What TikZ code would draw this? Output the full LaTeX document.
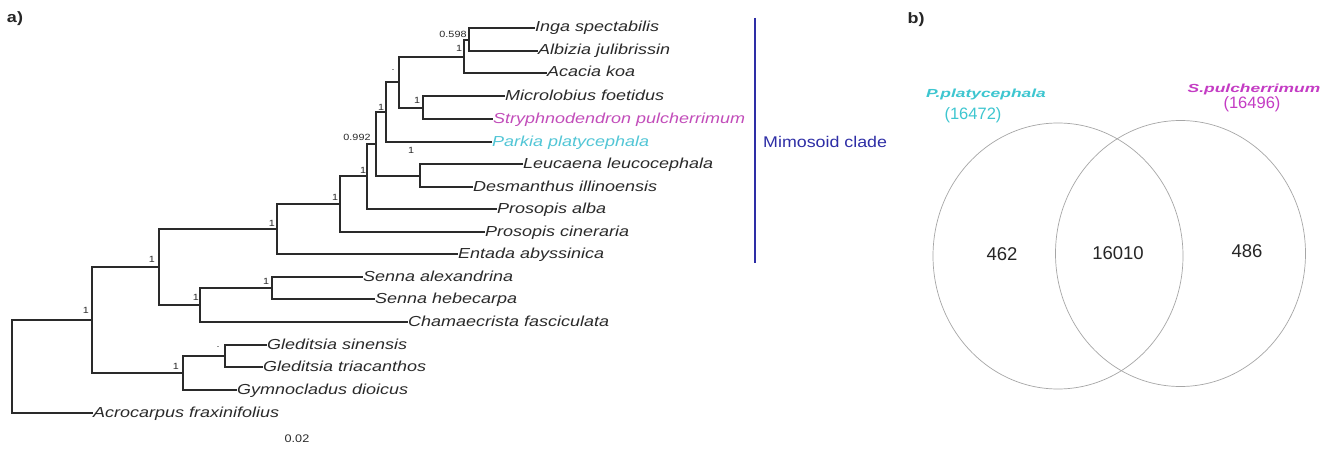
\documentclass[tikz,border=0pt]{standalone}
\usepackage{fontspec}
\setmainfont{Liberation Sans}
\usetikzlibrary{shapes.geometric}
\definecolor{treeline}{HTML}{2A2A2A}
\definecolor{strycol}{HTML}{C24DBA}
\definecolor{parkcol}{HTML}{52C6D6}
\definecolor{vcyan}{HTML}{3EC6D0}
\definecolor{vmag}{HTML}{C43CC4}
\definecolor{cladeblue}{HTML}{2E2EA6}
\newcommand\tx[1]{\scalebox{1.24}[1]{\fontsize{14.5}{16}\selectfont\itshape #1}}
\newcommand\suppv[1]{\scalebox{1.2}[1]{\fontsize{9}{10}\selectfont #1}}
\begin{document}
\begin{tikzpicture}[x=1pt,y=-1pt,
  branch/.style={draw=treeline, line width=1.1pt},
  taxon/.style={anchor=west, inner sep=0pt, text=treeline, text height=11pt, text depth=3pt},
  supp/.style={inner sep=0pt, text=treeline},
  vennring/.style={draw=gray!70, line width=0.7pt, ellipse, minimum width=250pt, minimum height=266pt, inner sep=0pt},
  vnum/.style={inner sep=0pt, font=\fontsize{18.5}{20}\selectfont, text=black!85},
  panel/.style={inner sep=0pt, font=\fontsize{15}{16}\selectfont\bfseries, text=black!85}]
\useasboundingbox (0,0) rectangle (1323,452);
\fill[white] (0,0) rectangle (1323,452);

% panel labels
\node[panel] (pa) at (15,19) {\scalebox{1.2}[1]{a)}};
\node[panel] (pb) at (916,20) {\scalebox{1.2}[1]{b)}};

% leaves
\node[taxon] (inga) at (535,28) {\tx{Inga spectabilis}};
\node[taxon] (albi) at (538,51) {\tx{Albizia julibrissin}};
\node[taxon] (acac) at (547,73) {\tx{Acacia koa}};
\node[taxon] (micr) at (505,96) {\tx{Microlobius foetidus}};
\node[taxon,text=strycol] (stry) at (493,119) {\tx{Stryphnodendron pulcherrimum}};
\node[taxon,text=parkcol] (park) at (492,142) {\tx{Parkia platycephala}};
\node[taxon] (leuc) at (523,164) {\tx{Leucaena leucocephala}};
\node[taxon] (desm) at (473,187) {\tx{Desmanthus illinoensis}};
\node[taxon] (palb) at (497,209) {\tx{Prosopis alba}};
\node[taxon] (pcin) at (485,232) {\tx{Prosopis cineraria}};
\node[taxon] (enta) at (458,254) {\tx{Entada abyssinica}};
\node[taxon] (sale) at (363,277) {\tx{Senna alexandrina}};
\node[taxon] (sheb) at (375,299) {\tx{Senna hebecarpa}};
\node[taxon] (cham) at (408,322) {\tx{Chamaecrista fasciculata}};
\node[taxon] (glsi) at (267,345) {\tx{Gleditsia sinensis}};
\node[taxon] (gltr) at (263,367) {\tx{Gleditsia triacanthos}};
\node[taxon] (gymn) at (237,390) {\tx{Gymnocladus dioicus}};
\node[taxon] (acro) at (93,413) {\tx{Acrocarpus fraxinifolius}};

% internal nodes
\coordinate (nia) at (469,40);
\coordinate (niaa) at (464,57);
\coordinate (nms) at (423,108);
\coordinate (na) at (399,82);
\coordinate (nb) at (386,112);
\coordinate (nld) at (420,176);
\coordinate (nc) at (376,144);
\coordinate (nd) at (367,176);
\coordinate (ne) at (340,204);
\coordinate (nf) at (277,229);
\coordinate (nss) at (272,288);
\coordinate (ng) at (200,305);
\coordinate (nh) at (159,267);
\coordinate (ngt) at (225,356);
\coordinate (ni) at (183,373);
\coordinate (nj) at (92,320);
\coordinate (nr) at (12,366);

% branches
\draw[branch] (nia) |- (inga.west);
\draw[branch] (nia) |- (albi.west);
\draw[branch] (niaa) |- (nia);
\draw[branch] (niaa) |- (acac.west);
\draw[branch] (nms) |- (micr.west);
\draw[branch] (nms) |- (stry.west);
\draw[branch] (na) |- (niaa);
\draw[branch] (na) |- (nms);
\draw[branch] (nb) |- (na);
\draw[branch] (nb) |- (park.west);
\draw[branch] (nld) |- (leuc.west);
\draw[branch] (nld) |- (desm.west);
\draw[branch] (nc) |- (nb);
\draw[branch] (nc) |- (nld);
\draw[branch] (nd) |- (nc);
\draw[branch] (nd) |- (palb.west);
\draw[branch] (ne) |- (nd);
\draw[branch] (ne) |- (pcin.west);
\draw[branch] (nf) |- (ne);
\draw[branch] (nf) |- (enta.west);
\draw[branch] (nss) |- (sale.west);
\draw[branch] (nss) |- (sheb.west);
\draw[branch] (ng) |- (nss);
\draw[branch] (ng) |- (cham.west);
\draw[branch] (nh) |- (nf);
\draw[branch] (nh) |- (ng);
\draw[branch] (ngt) |- (glsi.west);
\draw[branch] (ngt) |- (gltr.west);
\draw[branch] (ni) |- (ngt);
\draw[branch] (ni) |- (gymn.west);
\draw[branch] (nj) |- (nh);
\draw[branch] (nj) |- (ni);
\draw[branch] (nr) |- (nj);
\draw[branch] (nr) |- (acro.west);

% support values
\node[supp] (s1) at (453,34) {\suppv{0.598}};
\node[supp] (s2) at (459,48) {\suppv{1}};
\node[supp] (s3) at (393,70) {\suppv{.}};
\node[supp] (s4) at (417,100) {\suppv{1}};
\node[supp] (s5) at (381,107) {\suppv{1}};
\node[supp] (s6) at (357,137) {\suppv{0.992}};
\node[supp] (s7) at (411,150) {\suppv{1}};
\node[supp] (s8) at (363,170) {\suppv{1}};
\node[supp] (s9) at (335,197) {\suppv{1}};
\node[supp] (s10) at (272,223) {\suppv{1}};
\node[supp] (s11) at (152,259) {\suppv{1}};
\node[supp] (s12) at (266,281) {\suppv{1}};
\node[supp] (s13) at (196,297) {\suppv{1}};
\node[supp] (s14) at (86,310) {\suppv{1}};
\node[supp] (s15) at (218,347) {\suppv{.}};
\node[supp] (s16) at (176,366) {\suppv{1}};

% scale label
\node[supp] (scale) at (297,439) {\scalebox{1.15}[1]{\fontsize{11}{12}\selectfont 0.02}};

% clade bar
\coordinate (cbt) at (755,18);
\coordinate (cbb) at (755,263);
\draw[draw=cladeblue, line width=1.2pt] (cbt) -- (cbb);
\node[anchor=west, inner sep=0pt, text=cladeblue] (clade) at (763,142) {\scalebox{1.15}[1]{\fontsize{15.5}{17}\selectfont Mimosoid clade}};

% Venn
\node[vennring] (c1) at (1058,256) {};
\node[vennring] (c2) at (1180.5,253.5) {};
\node[vnum] (n462) at (1002,254) {462};
\node[vnum] (n16010) at (1118,253) {16010};
\node[vnum] (n486) at (1247,251) {486};
\node[inner sep=0pt, text=vcyan] (lp) at (986,94) {\scalebox{1.34}[0.9]{\fontsize{13}{14}\selectfont\bfseries\itshape P.platycephala}};
\node[inner sep=0pt, text=vcyan, font=\fontsize{16.5}{18}\selectfont] (lpn) at (973,115) {(16472)};
\node[inner sep=0pt, text=vmag] (ls) at (1254,89) {\scalebox{1.34}[0.9]{\fontsize{13}{14}\selectfont\bfseries\itshape S.pulcherrimum}};
\node[inner sep=0pt, text=vmag, font=\fontsize{16.5}{18}\selectfont] (lsn) at (1252,104) {(16496)};
\end{tikzpicture}
\end{document}
